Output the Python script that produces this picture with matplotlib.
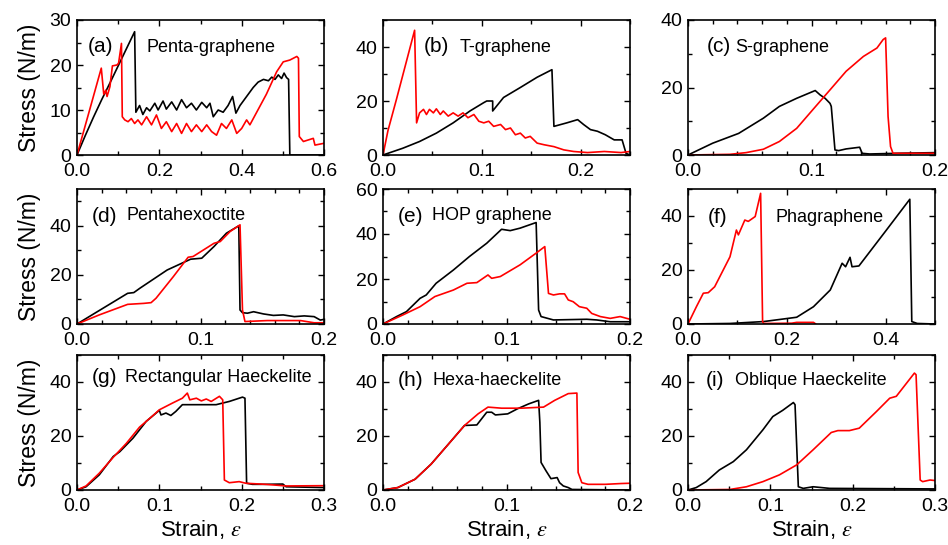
import matplotlib
matplotlib.use('Agg')
import matplotlib.pyplot as plt
from matplotlib.ticker import MultipleLocator

plt.rcParams['font.family'] = ['Liberation Sans', 'DejaVu Sans']
plt.rcParams['mathtext.fontset'] = 'stix'

# stress-strain curves, (strain, stress in N/m)
a_black = [(0, 0), (0.02, 4.3), (0.04, 8.4), (0.06, 12.3), (0.08, 16.0), (0.10, 19.8), (0.12, 23.6),
           (0.140, 27.4), (0.143, 9.5), (0.152, 11.0), (0.160, 9.0), (0.169, 10.5), (0.177, 9.8),
           (0.189, 11.5), (0.197, 10.0), (0.209, 12.0), (0.217, 10.2), (0.230, 11.8), (0.242, 10.0),
           (0.254, 12.3), (0.266, 10.5), (0.278, 11.5), (0.290, 10.0), (0.303, 11.7), (0.315, 10.5),
           (0.323, 11.5), (0.331, 8.5), (0.343, 10.0), (0.355, 9.5), (0.367, 11.0), (0.378, 13.0),
           (0.386, 9.3), (0.396, 11.0), (0.412, 13.0), (0.428, 15.0), (0.440, 16.2), (0.453, 16.8),
           (0.465, 16.5), (0.473, 17.3), (0.481, 16.8), (0.489, 17.8), (0.497, 17.0), (0.503, 18.2),
           (0.509, 17.2), (0.514, 16.8), (0.517, 0), (0.6, 0)]
a_red = [(0, 0), (0.03, 9.8), (0.059, 19.3), (0.065, 13.5), (0.070, 14.4), (0.073, 13.0), (0.080, 15.2),
         (0.086, 19.8), (0.097, 20.0), (0.101, 20.4), (0.108, 24.8), (0.110, 8.5), (0.116, 7.8),
         (0.124, 7.4), (0.132, 8.1), (0.140, 7.0), (0.148, 7.8), (0.157, 6.7), (0.169, 8.5), (0.181, 6.7),
         (0.193, 8.9), (0.205, 5.9), (0.217, 7.4), (0.230, 5.2), (0.242, 7.0), (0.254, 4.8), (0.266, 7.0),
         (0.278, 5.2), (0.290, 6.7), (0.303, 5.2), (0.315, 6.7), (0.327, 5.2), (0.339, 4.4), (0.351, 7.0),
         (0.363, 5.9), (0.376, 7.8), (0.388, 4.8), (0.400, 5.9), (0.412, 7.8), (0.420, 6.7), (0.460, 13.5),
         (0.485, 18.5), (0.501, 20.7), (0.517, 21.1), (0.534, 21.9), (0.538, 21.5), (0.540, 4.1),
         (0.550, 3.0), (0.574, 3.7), (0.578, 2.2), (0.600, 2.6)]

b_black = [(0, 0), (0.020, 2.5), (0.037, 5.0), (0.054, 8.1), (0.071, 11.9), (0.088, 16.3), (0.102, 19.4),
           (0.105, 20.0), (0.111, 20.0), (0.111, 16.3), (0.122, 21.3), (0.139, 25.0), (0.156, 28.8),
           (0.171, 31.6), (0.173, 10.6), (0.186, 11.9), (0.197, 13.1), (0.203, 11.3), (0.210, 9.4),
           (0.217, 8.8), (0.225, 7.5), (0.234, 5.6), (0.242, 5.6), (0.246, 0.6), (0.250, 0)]
b_red = [(0, 0), (0.005, 9.0), (0.0136, 20.6), (0.032, 46.2), (0.034, 11.9), (0.037, 15.6), (0.041, 16.9),
         (0.044, 15.0), (0.047, 16.9), (0.051, 15.6), (0.054, 17.1), (0.058, 15.0), (0.061, 16.3),
         (0.066, 14.4), (0.071, 15.6), (0.076, 14.4), (0.081, 15.6), (0.086, 13.8), (0.092, 15.0),
         (0.097, 12.5), (0.102, 11.9), (0.107, 12.5), (0.112, 10.6), (0.119, 11.3), (0.124, 9.4),
         (0.129, 10.0), (0.134, 7.5), (0.139, 8.1), (0.144, 6.3), (0.149, 6.9), (0.156, 4.4), (0.163, 3.8),
         (0.173, 3.1), (0.183, 1.9), (0.193, 1.3), (0.207, 0.9), (0.224, 1.3), (0.241, 0.9), (0.250, 1.3)]

c_black = [(0, 0), (0.020, 3.5), (0.041, 6.4), (0.061, 10.9), (0.074, 14.4), (0.088, 16.8), (0.103, 19.1),
           (0.107, 17.8), (0.111, 16.8), (0.115, 15.3), (0.116, 14.4), (0.119, 1.5), (0.122, 1.3),
           (0.128, 1.8), (0.139, 2.3), (0.141, 0.5), (0.147, 0.3), (0.169, 0.5), (0.200, 0.7)]
c_red = [(0, 0), (0.034, 0.2), (0.047, 0.7), (0.061, 1.7), (0.074, 4.0), (0.088, 7.9), (0.101, 13.4),
         (0.115, 19.3), (0.128, 24.8), (0.142, 29.2), (0.153, 31.7), (0.158, 34.2), (0.160, 34.7),
         (0.162, 11.4), (0.164, 2.5), (0.166, 0.5), (0.200, 0.5)]

d_black = [(0, 0), (0.041, 12.5), (0.046, 12.8), (0.051, 14.6), (0.073, 22.0), (0.092, 26.4), (0.101, 26.8),
           (0.111, 31.6), (0.121, 37.0), (0.131, 40.0), (0.132, 5.7), (0.134, 4.6), (0.138, 4.4),
           (0.143, 5.0), (0.151, 4.1), (0.159, 3.5), (0.167, 3.7), (0.176, 3.0), (0.184, 3.3), (0.192, 3.0),
           (0.197, 1.6), (0.200, 1.9)]
d_red = [(0, 0), (0.018, 3.7), (0.041, 8.0), (0.054, 8.4), (0.060, 8.7), (0.064, 10.5), (0.078, 19.3),
         (0.090, 27.2), (0.094, 27.5), (0.111, 32.9), (0.116, 33.6), (0.124, 37.7), (0.132, 40.4),
         (0.134, 5.7), (0.136, 1.0), (0.154, 1.4), (0.181, 1.4), (0.192, 0.5), (0.200, 0.5)]

e_black = [(0, 0), (0.011, 3.3), (0.019, 5.5), (0.030, 11.4), (0.035, 12.9), (0.043, 18.1), (0.057, 24.0),
           (0.070, 30.0), (0.084, 35.9), (0.096, 42.1), (0.103, 41.5), (0.111, 42.6), (0.124, 45.1),
           (0.126, 6.2), (0.128, 3.3), (0.138, 1.8), (0.165, 2.1), (0.173, 1.8), (0.184, 1.0), (0.200, 1.0)]
e_red = [(0, 0), (0.016, 4.0), (0.030, 7.7), (0.042, 12.2), (0.057, 15.1), (0.068, 18.1), (0.076, 18.4),
         (0.085, 21.8), (0.088, 20.3), (0.095, 21.1), (0.111, 26.3), (0.124, 31.5), (0.131, 34.4),
         (0.134, 13.6), (0.138, 12.9), (0.143, 13.4), (0.147, 13.4), (0.150, 10.7), (0.154, 9.9),
         (0.159, 7.7), (0.165, 7.0), (0.169, 4.7), (0.176, 3.3), (0.184, 2.5), (0.192, 3.3), (0.200, 2.1)]

f_black = [(0, 0), (0.085, 0.2), (0.153, 0.9), (0.220, 2.5), (0.254, 6.4), (0.288, 12.6), (0.312, 22.5),
           (0.319, 21.2), (0.328, 24.7), (0.332, 21.2), (0.346, 21.5), (0.400, 34.4), (0.449, 46.2),
           (0.453, 0.9), (0.464, 0.2), (0.500, 0)]
f_red = [(0, 0), (0.017, 6.4), (0.031, 11.4), (0.041, 11.6), (0.054, 13.8), (0.085, 24.9), (0.098, 34.8),
         (0.102, 33.0), (0.115, 38.5), (0.122, 38.0), (0.136, 39.8), (0.147, 48.4), (0.151, 0.9),
         (0.153, 0.2), (0.210, 0.3), (0.220, 0.6), (0.254, 0.6), (0.258, 0.1)]

g_black = [(0, 0), (0.011, 1.2), (0.027, 5.6), (0.044, 12.4), (0.052, 14.2), (0.068, 19.2), (0.084, 25.4),
           (0.100, 29.5), (0.102, 27.8), (0.108, 28.5), (0.114, 27.6), (0.120, 29.1), (0.128, 31.6),
           (0.149, 31.6), (0.169, 31.6), (0.185, 32.8), (0.201, 34.4), (0.204, 34.0), (0.206, 2.5),
           (0.213, 2.1), (0.229, 2.1), (0.250, 2.2), (0.254, 1.2), (0.300, 0.9)]
g_red = [(0, 0), (0.011, 1.5), (0.027, 6.2), (0.044, 12.1), (0.060, 17.3), (0.076, 23.3), (0.092, 27.5),
         (0.100, 29.7), (0.116, 32.2), (0.128, 34.0), (0.134, 35.9), (0.137, 33.4), (0.145, 34.0),
         (0.151, 33.0), (0.157, 33.7), (0.163, 32.8), (0.173, 34.7), (0.177, 33.4), (0.179, 3.7),
         (0.185, 2.7), (0.197, 3.1), (0.205, 2.5), (0.229, 2.1), (0.254, 1.5), (0.300, 1.6)]

h_black = [(0, 0), (0.012, 0.9), (0.026, 4.0), (0.039, 9.6), (0.053, 17.0), (0.066, 23.9), (0.076, 24.1),
           (0.084, 28.8), (0.088, 28.8), (0.091, 27.8), (0.101, 28.2), (0.109, 30.1), (0.118, 31.9),
           (0.126, 33.2), (0.127, 25.1), (0.128, 10.2), (0.132, 7.1), (0.136, 4.2), (0.141, 4.6),
           (0.143, 2.7), (0.146, 1.5), (0.150, 0.9), (0.153, 0.2), (0.200, 0)]
h_red = [(0, 0), (0.012, 0.9), (0.026, 4.0), (0.039, 9.6), (0.053, 17.0), (0.066, 23.9), (0.077, 28.2),
         (0.085, 30.7), (0.096, 30.3), (0.112, 30.3), (0.130, 30.7), (0.139, 33.2), (0.150, 35.7),
         (0.157, 35.9), (0.158, 6.5), (0.161, 2.7), (0.166, 2.1), (0.180, 2.1), (0.193, 2.4), (0.200, 2.5)]

i_black = [(0, 0), (0.010, 0.9), (0.022, 3.1), (0.038, 7.4), (0.055, 10.5), (0.071, 14.9), (0.091, 22.3),
           (0.103, 27.2), (0.115, 29.5), (0.128, 32.4), (0.130, 31.6), (0.134, 1.2), (0.140, 0.6),
           (0.152, 1.2), (0.172, 0.6), (0.300, 0.4)]
i_red = [(0, 0), (0.051, 0.2), (0.071, 1.2), (0.091, 3.1), (0.111, 5.6), (0.132, 9.3), (0.152, 14.9),
         (0.174, 21.3), (0.182, 22.0), (0.196, 22.0), (0.208, 22.9), (0.229, 29.1), (0.245, 34.0),
         (0.253, 34.7), (0.275, 43.3), (0.277, 42.7), (0.282, 3.7), (0.285, 3.1), (0.294, 3.7), (0.300, 3.5)]

tags = ['(a)', '(b)', '(c)', '(d)', '(e)', '(f)', '(g)', '(h)', '(i)']
names = ['Penta-graphene', 'T-graphene', 'S-graphene', 'Pentahexoctite', 'HOP graphene',
         'Phagraphene', 'Rectangular Haeckelite', 'Hexa-haeckelite', 'Oblique Haeckelite']
curves = [(a_black, a_red), (b_black, b_red), (c_black, c_red), (d_black, d_red), (e_black, e_red),
          (f_black, f_red), (g_black, g_red), (h_black, h_red), (i_black, i_red)]

# axis setup: xmax, xmajor, xminor, ymax, ymajor, yminor
limits = [(0.6, 0.2, 0.1, 30, 10, 5), (0.25, 0.1, 0.05, 50, 20, 10), (0.2, 0.1, 0.02, 40, 20, 10),
          (0.2, 0.1, 0.02, 55, 20, 10), (0.2, 0.1, 0.02, 60, 20, 10), (0.5, 0.2, 0.1, 50, 20, 10),
          (0.3, 0.1, 0.05, 50, 20, 10), (0.2, 0.1, 0.02, 50, 20, 10), (0.3, 0.1, 0.05, 50, 20, 10)]
# label positions in axes fraction: tag x, name x, y
label_pos = [(0.045, 0.283, 0.80), (0.165, 0.31, 0.80), (0.075, 0.19, 0.80),
             (0.06, 0.20, 0.80), (0.06, 0.20, 0.80), (0.08, 0.356, 0.79),
             (0.06, 0.194, 0.83), (0.06, 0.20, 0.81), (0.072, 0.19, 0.81)]

fig = plt.figure(figsize=(9.48, 5.45), dpi=100)
lefts = [77, 383, 688]
bottoms = [155, 324, 490]
for k in range(9):
    r, c = divmod(k, 3)
    ax = fig.add_axes([lefts[c] / 948, 1 - bottoms[r] / 545, 247 / 948, 135 / 545])
    black, red = curves[k]
    ax.plot([p[0] for p in black], [p[1] for p in black], color='black', lw=1.2)
    ax.plot([p[0] for p in red], [p[1] for p in red], color='#ff0000', lw=1.2)
    xmax, xmaj, xmin, ymax, ymaj, ymin = limits[k]
    ax.set_xlim(0, xmax)
    ax.set_ylim(0, ymax)
    ax.xaxis.set_major_locator(MultipleLocator(xmaj))
    ax.xaxis.set_minor_locator(MultipleLocator(xmin))
    ax.yaxis.set_major_locator(MultipleLocator(ymaj))
    ax.yaxis.set_minor_locator(MultipleLocator(ymin))
    ax.xaxis.set_major_formatter(plt.FuncFormatter(lambda v, p: '%.1f' % v))
    ax.yaxis.set_major_formatter(plt.FuncFormatter(lambda v, p: '%d' % round(v)))
    ax.tick_params(which='both', direction='in', top=True, right=True, labelsize=14, width=1.0)
    ax.tick_params(axis='x', which='major', length=4, pad=6)
    ax.tick_params(axis='y', which='major', length=4, pad=4)
    ax.tick_params(which='minor', length=3)
    for s in ax.spines.values():
        s.set_linewidth(1.2)
    tx, nx, ty = label_pos[k]
    ax.text(tx, ty, tags[k], transform=ax.transAxes, fontsize=15, va='center')
    ax.text(nx, ty, names[k], transform=ax.transAxes, fontsize=13, va='center')
    if c == 0:
        ax.set_ylabel('Stress (N/m)', fontsize=16.5, labelpad=6)
    if r == 2:
        ax.set_xlabel('Strain, $\\varepsilon$', fontsize=16, labelpad=2)

fig.savefig('out.png', dpi=100)
